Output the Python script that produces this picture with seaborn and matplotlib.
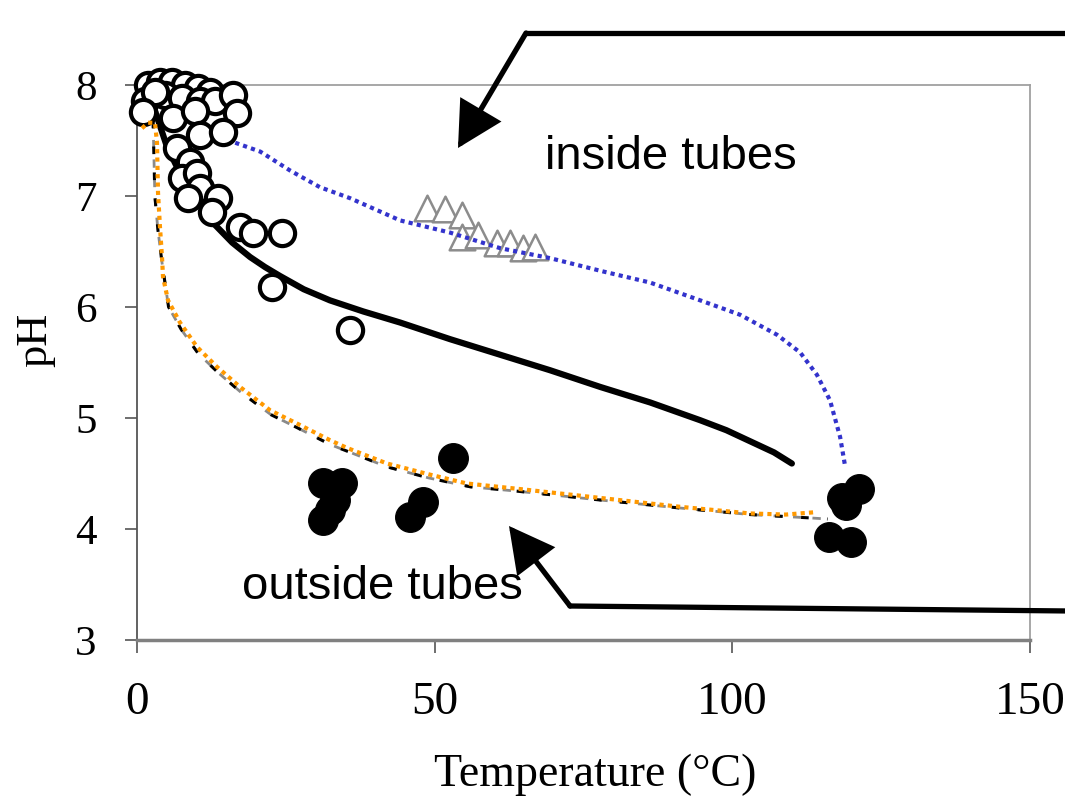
import numpy as np
import pandas as pd
import matplotlib
matplotlib.use("Agg")
import matplotlib.pyplot as plt
from matplotlib.lines import Line2D
import seaborn as sns

# ---- measured pH inside tubes (open circles) ----
open_temp = [1.85, 3.86, 5.88, 8.06, 10.25, 12.26, 1.34, 4.70, 7.56, 10.58, 13.10, 3.02,
             6.05, 9.74, 10.58, 16.13, 16.80, 14.45, 6.72, 8.90, 7.56, 10.08, 10.58, 8.57,
             13.61, 12.60, 17.30, 19.49, 24.36, 22.68, 35.78, 1.0]
open_ph = [8.0, 8.03, 8.03, 8.0, 7.97, 7.94, 7.86, 7.91, 7.88, 7.86, 7.86, 7.94,
           7.70, 7.77, 7.55, 7.91, 7.75, 7.58, 7.43, 7.31, 7.16, 7.21, 7.07, 6.98,
           6.98, 6.86, 6.72, 6.67, 6.67, 6.18, 5.79, 7.76]

# ---- measured pH inside tubes, second series (triangles) ----
tri_temp = [48.7, 51.7, 54.6, 54.6, 57.3, 60.5, 62.7, 64.9, 66.9]
tri_ph = [6.89, 6.88, 6.83, 6.63, 6.65, 6.58, 6.58, 6.53, 6.54]

# ---- measured pH outside tubes (filled circles) ----
fill_temp = [53.1, 31.2, 34.4, 33.3, 31.2, 32.4, 48.0, 45.9, 121.3, 119.1, 118.4, 116.2, 119.9]
fill_ph = [4.64, 4.41, 4.41, 4.26, 4.08, 4.17, 4.24, 4.11, 4.36, 4.22, 4.28, 3.93, 3.88]

# ---- model curves ----
model_in_temp = [2.5, 5.0, 8.0, 10.5, 13.1, 16.0, 19.0, 21.5, 24.0, 28.0, 32.4, 38.0,
                 44.2, 52.6, 61.0, 69.4, 77.8, 86.2, 94.6, 99.0, 103.0, 107.0, 110.0]
model_in_ph = [7.85, 7.45, 7.12, 6.93, 6.74, 6.58, 6.45, 6.36, 6.28, 6.16, 6.06, 5.96,
               5.86, 5.71, 5.57, 5.43, 5.28, 5.14, 4.98, 4.89, 4.79, 4.69, 4.59]

blue_temp = [16.5, 20.7, 25.7, 30.7, 35.8, 44.2, 52.6, 61.0, 69.4, 78.3, 86.2, 94.6,
             101.3, 107.5, 111.4, 114.2, 116.4, 118.1, 118.9]
blue_ph = [7.48, 7.40, 7.23, 7.08, 6.98, 6.78, 6.67, 6.53, 6.44, 6.32, 6.22, 6.06,
           5.93, 5.75, 5.59, 5.39, 5.16, 4.83, 4.58]

orange_temp = [0.84, 1.85, 3.02, 3.36, 3.53, 3.86, 4.20, 4.37, 5.21, 7.22, 10.08, 13.44,
               17.30, 22.34, 26.88, 32.42, 35.3, 42.0, 49.2, 55.4, 64.3, 77.8, 91.2,
               103.0, 109.0, 113.6]
orange_ph = [7.61, 7.66, 7.66, 7.48, 7.03, 6.72, 6.45, 6.27, 6.06, 5.86, 5.64, 5.46,
             5.28, 5.07, 4.95, 4.80, 4.73, 4.59, 4.49, 4.41, 4.36, 4.28, 4.20,
             4.14, 4.13, 4.15]

dash_temp = [2.7, 3.0, 3.5, 4.2, 5.3, 7.4, 10.3, 13.6, 17.5, 22.5, 27.0, 32.5, 42.0,
             49.0, 56.0, 64.0, 78.0, 91.0, 103.0, 113.0, 116.0]
dash_ph = [7.68, 7.0, 6.7, 6.4, 6.0, 5.8, 5.58, 5.41, 5.23, 5.03, 4.91, 4.76, 4.56,
           4.46, 4.38, 4.34, 4.26, 4.19, 4.13, 4.10, 4.09]

x_ticks = [0, 50, 100, 150]
y_ticks = [3, 4, 5, 6, 7, 8]

sns.set_theme(style="ticks")
plt.rcParams["font.family"] = ["Liberation Serif", "DejaVu Serif"]
plt.rcParams["text.color"] = "black"
plt.rcParams["axes.labelcolor"] = "black"
plt.rcParams["xtick.labelcolor"] = "black"
plt.rcParams["ytick.labelcolor"] = "black"

W, H = 1065, 809
fig = plt.figure(figsize=(W / 100, H / 100), dpi=100)
ax = fig.add_axes([137 / W, 1 - 640 / H, (1030 - 137) / W, (640 - 85) / H])

def line(x, y, **kw):
    df = pd.DataFrame({"T": x, "pH": y})
    sns.lineplot(data=df, x="T", y="pH", ax=ax, sort=False, estimator=None, **kw)

line(model_in_temp, model_in_ph, color="black", lw=4.5, zorder=2,
     solid_capstyle="round", solid_joinstyle="round")
line(dash_temp, dash_ph, color="#8a8a8a", lw=2.0, zorder=3.4, dashes=(3, 4))
line(dash_temp, dash_ph, color="black", lw=2.2, zorder=3.5, dashes=(2.5, 6))
line(blue_temp, blue_ph, color="#3333cc", lw=3.0, zorder=4, dashes=(1, 1.0))
line(orange_temp, orange_ph, color="#ff9900", lw=3.0, zorder=4.2, dashes=(1, 1.0))

sns.scatterplot(x=tri_temp, y=tri_ph, ax=ax, marker="^", s=340, facecolor="white",
                edgecolor="#8c8c8c", linewidth=1.8, zorder=3, clip_on=False)
sns.scatterplot(x=open_temp, y=open_ph, ax=ax, marker="o", s=330, facecolor="white",
                edgecolor="black", linewidth=3.0, zorder=3.6, clip_on=False)
sns.scatterplot(x=fill_temp, y=fill_ph, ax=ax, marker="o", s=460, color="black",
                edgecolor="black", linewidth=0.8, zorder=3.6, clip_on=False)

ax.set_xlim(0, 150)
ax.set_ylim(3, 8)
ax.set_xticks(x_ticks)
ax.set_yticks(y_ticks)
ax.tick_params(axis="x", labelsize=34, length=9, width=1.2, color="#555555", pad=21,
               direction="out")
ax.tick_params(axis="y", labelsize=31, length=9, width=1.2, color="#555555", pad=20,
               direction="out")

for side in ["top", "right"]:
    ax.spines[side].set_visible(True)
    ax.spines[side].set_color("#a0a0a0")
    ax.spines[side].set_linewidth(1.3)
ax.spines["left"].set_color("#555555")
ax.spines["left"].set_linewidth(1.3)
ax.spines["bottom"].set_color("#808080")
ax.spines["bottom"].set_linewidth(2.5)

ax.set_xlabel("Temperature (°C)", fontsize=33)
ax.xaxis.set_label_coords((595 - 137) / 893, (640 - 775) / 555)
ax.xaxis.label.set_va("center")
ax.set_ylabel("pH", fontsize=32)
ax.yaxis.set_label_coords((35 - 137) / 893, (640 - 340) / 555)
ax.yaxis.label.set_va("center")

# annotations with elbow arrows
sans = ["Liberation Sans", "DejaVu Sans"]
fig.text(545 / W, 1 - 157 / H, "inside tubes", fontsize=34, family=sans,
         ha="left", va="center", color="black")
fig.text(242 / W, 1 - 587 / H, "outside tubes", fontsize=34, family=sans,
         ha="left", va="center", color="black")

def fp(x, y):
    return (x, H - y)

arrow_style = dict(arrowstyle="-|>,head_length=0.6,head_width=0.32",
                   mutation_scale=44, lw=3.8, color="black", shrinkA=0, shrinkB=0,
                   joinstyle="miter")

fig.add_artist(Line2D([1070 / W, 526 / W], [1 - 33 / H, 1 - 33 / H], color="black",
                      lw=3.8, transform=fig.transFigure, solid_capstyle="round"))
ax.annotate("", xy=fp(458, 148), xycoords="figure pixels",
            xytext=fp(526, 33), textcoords="figure pixels",
            arrowprops=arrow_style, annotation_clip=False)

fig.add_artist(Line2D([1070 / W, 570 / W], [1 - 611 / H, 1 - 606 / H], color="black",
                      lw=3.8, transform=fig.transFigure, solid_capstyle="round"))
ax.annotate("", xy=fp(509, 526), xycoords="figure pixels",
            xytext=fp(570, 606), textcoords="figure pixels",
            arrowprops=arrow_style, annotation_clip=False)

fig.savefig("out.png", dpi=100, facecolor="white")
